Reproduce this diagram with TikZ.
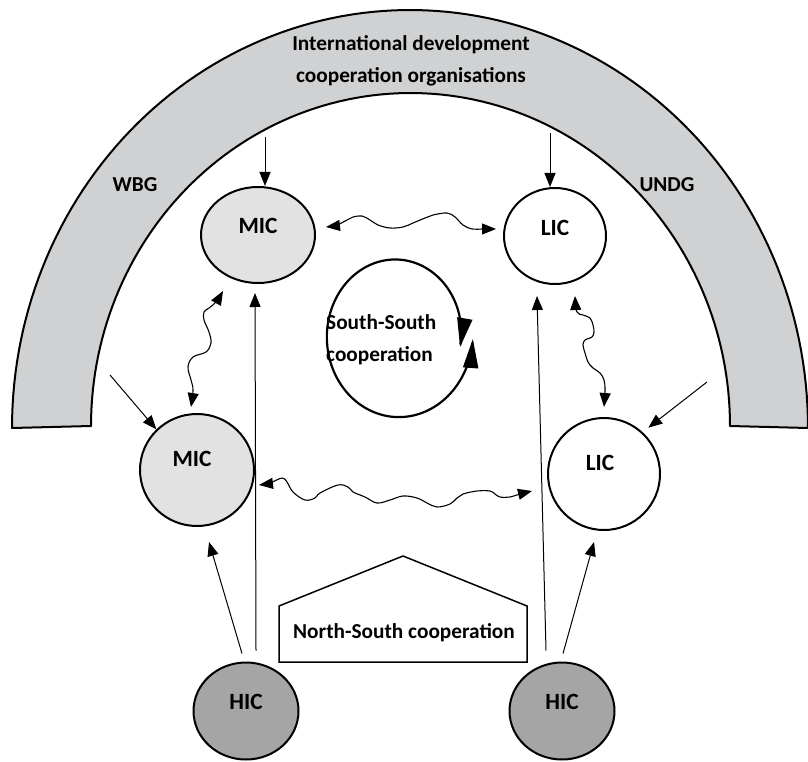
\documentclass[tikz,border=0pt]{standalone}
\usepackage{fontspec}
\setmainfont{Carlito}
\usetikzlibrary{shapes.geometric,arrows.meta,calc}
\definecolor{archgray}{RGB}{207,209,210}
\definecolor{micgray}{RGB}{226,226,226}
\definecolor{hicgray}{RGB}{165,165,165}
\begin{document}
\begin{tikzpicture}[x=1pt,y=-1pt,
  lab/.style={font=\fontsize{21.3}{32}\selectfont\bfseries, inner sep=0pt},
  clab/.style={font=\fontsize{23.3}{28}\selectfont\bfseries, inner sep=0pt},
  cty/.style={ellipse, draw, line width=2pt, inner sep=0pt},
  tipA/.tip={Triangle[length=14pt,width=11pt]},
  tipB/.tip={Triangle[length=29pt,width=15pt]},
  arr/.style={line width=1pt, -tipA},
  wav/.style={line width=1.1pt, tipA-tipA},
]
\useasboundingbox (0,0) rectangle (808,762);

% arch of international organisations
\filldraw[fill=archgray, line width=2pt, line join=round]
  plot[domain=180:0, samples=120] ({410+398*cos(\x)},{428-418*sin(\x)})
  -- (730,426)
  -- plot[domain=0:180, samples=120] ({410.5+319.5*cos(\x)},{426-333*sin(\x)})
  -- cycle;
\node[lab, align=center] (idco) at (411,61) {International development\\cooperation organisations};
\node[lab] (wbg) at (135,185) {WBG};
\node[lab] (undg) at (667,185) {UNDG};

% countries
\node[cty, fill=micgray, minimum width=114pt, minimum height=96pt,
      label={[clab,yshift=9pt]center:MIC}] (mict) at (258,235) {};
\node[cty, fill=white, minimum width=102pt, minimum height=96pt,
      label={[clab,yshift=8pt]center:LIC}] (lict) at (555,236) {};
\node[cty, fill=micgray, minimum width=114pt, minimum height=112pt,
      label={[clab,xshift=-5pt,yshift=11pt]center:MIC}] (micb) at (197,470) {};
\node[cty, fill=white, minimum width=112pt, minimum height=112pt,
      label={[clab,xshift=-4pt,yshift=11pt]center:LIC}] (licb) at (604,474) {};
\node[cty, fill=hicgray, minimum width=105pt, minimum height=97pt,
      label={[clab,yshift=9pt]center:HIC}] (hicl) at (246,711) {};
\node[cty, fill=hicgray, minimum width=105pt, minimum height=97pt,
      label={[clab,yshift=9pt]center:HIC}] (hicr) at (562,711) {};

% South-South cooperation loop
\draw[line width=2.2pt, tipB-tipB]
  plot[domain=2.7:369.7, samples=150, smooth]
  ({397+73*(1.04-0.164*(\x-2.7)/367)*cos(\x)},{335+82*(1.04-0.164*(\x-2.7)/367)*sin(\x)});
\node[lab, align=left, anchor=west] (ssc) at (326,340) {South-South\\cooperation};

% North-South cooperation
\draw[line width=1.5pt, fill=white, line join=miter]
  (279,662) -- (279,606) -- (403,556) -- (527,606) -- (527,662) -- cycle;
\node[lab] (nsc) at (404,633) {North-South cooperation};

% arrows from the organisations
\coordinate (s1) at (265,137);
\coordinate (s2) at (550,133);
\coordinate (s3) at (110,375);
\coordinate (s4) at (707,382);
\draw[arr] (s1) -- (s1 |- mict.north);
\draw[arr] (s2) -- (s2 |- lict.north);
\draw[arr] (s3) -- (micb.135);
\draw[arr] (s4) -- ($(licb.45)+(4,-6)$);

% arrows from high income countries
\coordinate (h1) at ($(hicl.north)+(10,-11)$);
\coordinate (h2) at ($(hicl.north)+(-4,-8)$);
\coordinate (h3) at ($(hicr.north)+(-16,-11)$);
\coordinate (h4) at ($(hicr.north)+(1,-8)$);
\draw[arr] (h1) -- ($(mict.south)+(-3,9)$);
\draw[arr] (h2) -- ($(micb.south)+(12,15)$);
\draw[arr] (h3) -- ($(lict.south)+(-18,11)$);
\draw[arr] (h4) -- ($(licb.south)+(-10,11)$);

% wavy South-South links
\coordinate (w1s) at ($(mict.east)+(10,-8)$);
\coordinate (w1e) at ($(lict.west)+(-7,-7)$);
\draw[wav] plot[smooth, tension=0.6] coordinates {(w1s) (337,225) (347,220) (353,217) (362,216) (370,220) (378,225) (390,228) (403,227) (413,223) (425,218) (433,215) (447,213) (455,217) (463,225) (472,229) (483,229) (w1e)};

\coordinate (w2s) at ($(micb.east)+(4,15)$);
\coordinate (w2e) at ($(licb.west)+(-15,17)$);
\draw[wav] plot[smooth, tension=0.6] coordinates {(w2s) (270,483) (282,478) (287,482) (293,492) (305,500) (315,498) (320,493) (338,485) (348,487) (353,492) (365,497) (377,503) (390,500) (403,496) (417,498) (427,503) (437,507) (450,504) (457,498) (463,494) (477,491) (490,491) (495,494) (500,497) (510,497) (520,494) (w2e)};

\coordinate (w3s) at ($(mict.south)+(-35,7)$);
\coordinate (w3e) at ($(micb.north)+(-6,-6)$);
\draw[wav] plot[smooth, tension=0.6] coordinates {(w3s) (216,302) (209,308) (204,312) (204,320) (209,332) (211,343) (206,352) (193,357) (188,367) (191,380) (193,390) (w3e)};

\coordinate (w4s) at ($(lict.south)+(20,11)$);
\coordinate (w4e) at ($(licb.north)+(0,-10)$);
\draw[wav] plot[smooth, tension=0.6] coordinates {(w4s) (577,312) (583,315) (590,318) (593,325) (594,332) (592,337) (585,340) (583,345) (585,353) (588,362) (593,368) (600,373) (604,380) (605,390) (w4e)};
\end{tikzpicture}
\end{document}
